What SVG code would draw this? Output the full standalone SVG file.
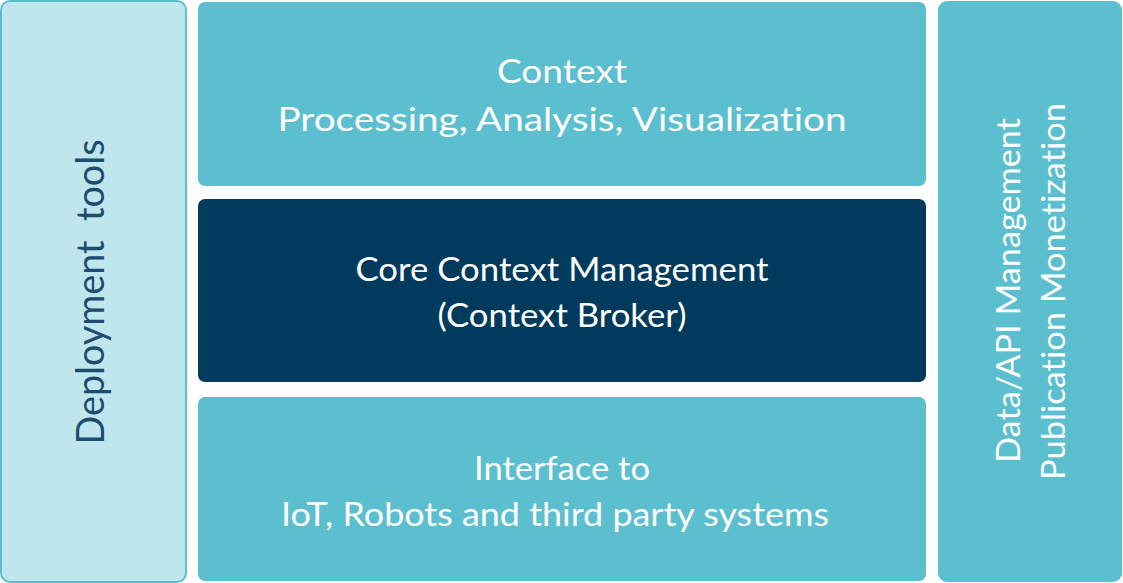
<svg xmlns="http://www.w3.org/2000/svg" width="1123" height="583" viewBox="0 0 1123 583">
<style>
.mid{fill:#5bbfcf}
.dark{fill:#003b5d}
.lt{fill:#bfe5ed;stroke:#5bbfcf;stroke-width:2}
text{font-family:Lato,"Open Sans","Liberation Sans",sans-serif;text-anchor:middle;font-variant-ligatures:none;white-space:pre}
.w{fill:#ffffff;font-size:33px}
.v{fill:#1c4c6e;font-size:39px}
.vw{fill:#ffffff;font-size:33px}
</style>
<rect width="1123" height="583" fill="#ffffff"/>
<g id="deployment">
<rect class="lt" x="1" y="1" width="185" height="581" rx="9"/>
<text class="v" x="104" y="292" transform="rotate(-90 104 292)" textLength="305" lengthAdjust="spacingAndGlyphs" xml:space="preserve">Deployment  tools</text>
</g>
<g id="context">
<rect class="mid" x="198" y="2" width="728" height="184" rx="7"/>
<text class="w" x="562" y="83" textLength="130" lengthAdjust="spacingAndGlyphs">Context</text>
<text class="w" x="562" y="131" textLength="569" lengthAdjust="spacingAndGlyphs">Processing, Analysis, Visualization</text>
</g>
<g id="core">
<rect class="dark" x="198" y="199" width="728" height="183" rx="7"/>
<text class="w" x="562" y="281" textLength="413" lengthAdjust="spacingAndGlyphs">Core Context Management</text>
<text class="w" x="562" y="327" textLength="249" lengthAdjust="spacingAndGlyphs">(Context Broker)</text>
</g>
<g id="interface">
<rect class="mid" x="198" y="397" width="728" height="184" rx="7"/>
<text class="w" x="562" y="480" textLength="176" lengthAdjust="spacingAndGlyphs">Interface to</text>
<text class="w" x="555" y="526" textLength="548" lengthAdjust="spacingAndGlyphs">IoT, Robots and third party systems</text>
</g>
<g id="datamgmt">
<rect class="mid" x="938" y="1" width="184" height="581" rx="9"/>
<text class="vw" x="1020" y="290.5" transform="rotate(-90 1020 290.5)" textLength="345" lengthAdjust="spacingAndGlyphs">Data/API Management</text>
<text class="vw" x="1065" y="291.5" transform="rotate(-90 1065 291.5)" textLength="377" lengthAdjust="spacingAndGlyphs">Publication Monetization</text>
</g>
<g id="connectors"/>
</svg>
